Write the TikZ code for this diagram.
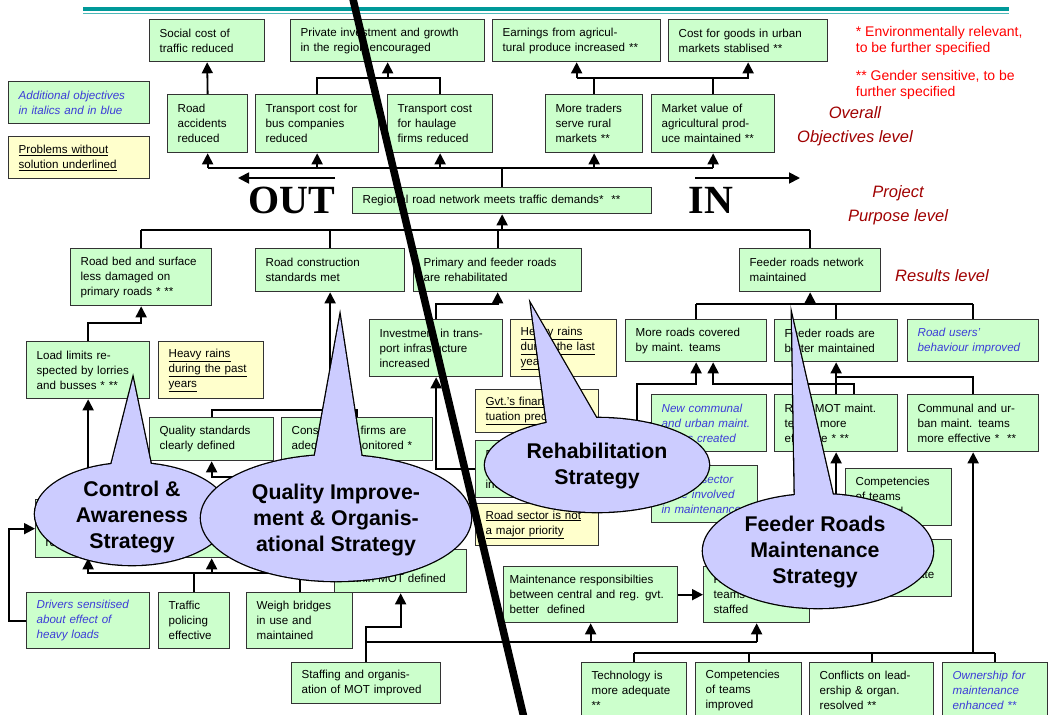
\documentclass[tikz,border=0pt]{standalone}
\usepackage{fontspec}
\setmainfont{Liberation Sans}
\newfontfamily\outinfont{Liberation Serif}
\usetikzlibrary{arrows.meta}

\definecolor{objgreen}{HTML}{CCFFCC}
\definecolor{probyellow}{HTML}{FFFFCC}
\definecolor{stratblue}{HTML}{CCCCFF}
\definecolor{addblue}{HTML}{3C3CD8}
\definecolor{levelred}{HTML}{A00000}
\definecolor{headteal}{HTML}{009999}

\begin{document}
\begin{tikzpicture}[>={Triangle[length=11pt,width=11pt]}, x=1pt, y=-1pt,
    line width=1.8pt,
    obj/.style={draw=black!80, line width=1.3pt, fill=objgreen, anchor=north west,
      align=left, inner xsep=10pt, inner ysep=0pt, font=\fontsize{11.6}{15}\selectfont},
    wh/.style 2 args={minimum width=#1pt, text width=#1pt-20pt, minimum height=#2pt},
    prob/.style={obj, fill=probyellow},
    add/.style={obj, text=addblue, font=\fontsize{11.6}{15}\selectfont\itshape},
    rim/.style={draw=black, line width=2.6pt},
    bubble/.style={fill=stratblue},
    strat/.style={align=center, inner sep=0pt, font=\fontsize{21.3}{26}\selectfont\bfseries},
    level/.style={align=center, inner sep=0pt, text=levelred, font=\fontsize{16.5}{24.5}\selectfont\itshape},
    note/.style={anchor=west, align=left, inner sep=0pt, text=red, font=\fontsize{14}{16}\selectfont},
    inout/.style={inner sep=0pt, font=\outinfont\fontsize{40}{40}\selectfont\bfseries}]

  \useasboundingbox[fill=white] (0,0) rectangle (1053,715);

  % head rule
  \draw[headteal, line width=4.3pt] (83,9) -- (1009,9);
  \draw[headteal!70, line width=1.5pt] (83,13.3) -- (1009,13.3);

  % overall objectives
  \node[obj, wh={115}{42}] (soc) at (149,19) {Social cost of\\traffic reduced};
  \node[obj, wh={194}{42}] (priv) at (290,19) {Private investment and growth\\in the region encouraged};
  \node[obj, wh={168}{42}] (earn) at (492,19) {Earnings from agricul-\\tural produce increased **};
  \node[obj, wh={159}{42}] (cost) at (668,19) {Cost for goods in urban\\markets stablised **};

  \node[obj, wh={80}{58}] (acc) at (167,94) {Road\\accidents\\reduced};
  \node[obj, wh={123}{58}] (tbus) at (255,94) {Transport cost for\\bus companies\\reduced};
  \node[obj, wh={105}{58}] (thaul) at (387,94) {Transport cost\\for haulage\\firms reduced};
  \node[obj, wh={97}{58}] (trad) at (545,94) {More traders\\serve rural\\markets **};
  \node[obj, wh={123}{58}] (mval) at (651,94) {Market value of\\agricultural prod-\\uce maintained **};

  % legend and notes
  \node[add, wh={141}{42}] (leg1) at (8,81) {Additional objectives\\in italics and in blue};
  \node[prob, wh={141}{42}] (leg2) at (8,136) {\underline{Problems without}\\\underline{solution underlined}};
  \node[note] (env) at (855,41) {* Environmentally relevant,\\to be further specified};
  \node[note] (gen) at (855,85) {** Gender sensitive, to be\\further specified};
  \node[level] (ovl) at (855,126) {Overall\\Objectives level};
  \node[level] (ppl) at (898,205) {Project\\Purpose level};
  \node[level] (rsl) at (942,276) {Results level};

  % project purpose
  \node[obj, wh={299}{26}] (purp) at (352,187) {Regional road network meets traffic demands*~~**};
  \node[inout] (out) at (292,200) {OUT};
  \node[inout] (in) at (711,200) {IN};
  \coordinate (outfrom) at (335,178);
  \coordinate (outto) at (238,178);
  \coordinate (infrom) at (695,178);
  \coordinate (into) at (800,178);
  \draw[->] (outfrom) -- (outto);
  \draw[->] (infrom) -- (into);

  % results
  \node[obj, wh={141}{57}] (rbed) at (70,248) {Road bed and surface\\less damaged on\\primary roads * **};
  \node[obj, wh={149}{43}] (rcon) at (255,248) {Road construction\\standards met};
  \node[obj, wh={168}{43}] (rreh) at (413,248) {Primary and feeder roads\\are rehabilitated};
  \node[obj, wh={141}{43}] (rfeed) at (739,248) {Feeder roads network\\maintained};

  % activities and conditions
  \node[obj, wh={123}{57}] (load) at (26,341) {Load limits re-\\spected by lorries\\and busses * **};
  \node[prob, wh={105}{57}] (rain1) at (158,341) {\underline{Heavy rains}\\\underline{during the past}\\\underline{years}};
  \node[obj, wh={124}{43}] (qual) at (149,417) {Quality standards\\clearly defined};
  \node[obj, wh={151}{43}] (firm) at (281,417) {Construction firms are\\adequately monitored *};
  \node[obj, wh={133}{57}] (inv) at (369,319) {Investment in trans-\\port infrastucture\\increased};
  \node[prob, wh={106}{57}] (rain2) at (510,319) {\underline{Heavy rains}\\\underline{during the last}\\\underline{years}};
  \node[prob, wh={123}{43}] (gvt) at (475,389) {\underline{Gvt.'s financial si-}\\\underline{tuation precarious}};
  \node[obj, wh={123}{57}] (dbox) at (475,440) {Donor support\\for road sector\\increased};
  \node[prob, wh={123}{42}] (rsec) at (475,503) {\underline{Road sector is not}\\\underline{a major priority}};

  \node[obj, wh={141}{42}] (mroad) at (625,319) {More roads covered\\by maint. teams};
  \node[obj, wh={123}{42}] (fbet) at (774,319) {Feeder roads are\\better maintained};
  \node[add, wh={131}{42}] (ruse) at (907,319) {Road users'\\behaviour improved};
  \node[add, wh={115}{57}] (ncom) at (651,394) {New communal\\and urban maint.\\teams created};
  \node[obj, wh={123}{57}] (rmot) at (774,394) {Reg. MOT maint.\\teams more\\effective * **};
  \node[obj, wh={131}{57}] (comm) at (907,394) {Communal and ur-\\ban maint. teams\\more effective *~~**};
  \node[add, wh={106}{57}] (psec) at (651,465) {Private sector\\more involved\\in maintenance};
  \node[obj, wh={106}{57}] (comp1) at (845,468) {Competencies\\of teams\\improved};
  \node[obj, wh={106}{57}] (tech1) at (845,539) {Technology is\\more adequate};

  \node[obj, wh={197}{58}] (hid) at (35,499) {Axle load limits\\enforced by\\regulations};
  \node[add, wh={123}{56}] (drv) at (26,592) {Drivers sensitised\\about effect of\\heavy loads};
  \node[obj, wh={71}{56}] (traf) at (158,592) {Traffic\\policing\\effective};
  \node[obj, wh={106}{56}] (weigh) at (246,592) {Weigh bridges\\in use and\\maintained};
  \node[obj, wh={132}{43}] (mot) at (334,549) {Responsibilities\\within MOT defined};
  \node[obj, wh={149}{41}] (staff) at (291,662) {Staffing and organis-\\ation of MOT improved};
  \node[obj, minimum width=174pt, text width=162pt, inner xsep=6pt, minimum height=56pt] (mresp) at (503,566)
    {Maintenance responsibilties\\between central and reg. gvt.\\better~~defined};
  \node[obj, wh={106}{56}] (staffd) at (703,566) {Reg. MOT\\teams\\staffed};

  \node[obj, wh={105}{56}] (tech2) at (581,662) {Technology is\\more adequate\\* **};
  \node[obj, wh={106}{56}] (comp2) at (695,662) {Competencies\\of teams\\improved};
  \node[obj, wh={124}{56}] (confl) at (809,662) {Conflicts on lead-\\ership \& organ.\\resolved **};
  \node[add, wh={105}{56}] (own) at (942,662) {Ownership for\\maintenance\\enhanced **};

  % junction levels
  \coordinate (lvl1) at (0,78);
  \coordinate (lvl2) at (0,168);
  \coordinate (lvl3) at (0,230);
  \coordinate (rjoin) at (0,304);
  \coordinate (ljoin) at (0,323);
  \coordinate (cjoin) at (0,377);
  \coordinate (mjoin) at (0,384);
  \coordinate (qjoin) at (0,410);
  \coordinate (sjoin) at (0,477);
  \coordinate (hjoin) at (0,573);
  \coordinate (tjoin) at (0,627);
  \coordinate (bjoin) at (0,642);
  \coordinate (ojoin) at (0,653);
  \coordinate (leftrail) at (9,0);
  \coordinate (midrail) at (637,0);

  % links between objectives
  \draw[->] (acc.north) -- (soc.south);
  \draw (tbus.north) |- (thaul.north |- lvl1) -- (thaul.north);
  \draw[->] (priv.south |- lvl1) -- (priv.south);
  \draw (trad.north) -- (trad.north |- lvl1);
  \draw (mval.north) -- (mval.north |- lvl1);
  \draw[->] (earn.south |- lvl1) -- (cost.south |- lvl1) -- (cost.south);
  \draw[->] (earn.south |- lvl1) -- (earn.south);

  \draw (acc.south |- lvl2) -- (mval.south |- lvl2);
  \foreach \n in {acc,tbus,thaul,trad,mval}
    \draw[->] (\n.south |- lvl2) -- (\n.south);
  \draw (purp.north) -- (purp.north |- lvl2);

  \draw (rbed.north |- lvl3) -- (rfeed.north |- lvl3);
  \foreach \n in {rbed,rcon,rreh,rfeed}
    \draw (\n.north) -- (\n.north |- lvl3);
  \draw[->] (purp.south |- lvl3) -- (purp.south);

  % links below the results
  \draw[->] (load.north) |- (rbed.south |- ljoin) -- (rbed.south);
  \draw[->] (hid.north -| load.north) -- (load.south);
  \draw (qual.north) |- (firm.north |- qjoin) -- (firm.north);
  \draw[->] (rcon.south |- qjoin) -- (rcon.south);
  \draw[->] (mot.north) |- (qual.south |- sjoin) -- (qual.south);
  \draw[->] (inv.north) |- (rreh.south |- rjoin) -- (rreh.south);
  \draw[->] (dbox.west) -| (inv.south);

  \draw (mroad.north |- rjoin) -- (ruse.north |- rjoin);
  \foreach \n in {mroad,fbet,ruse}
    \draw (\n.north) -- (\n.north |- rjoin);
  \draw[->] (rfeed.south |- rjoin) -- (rfeed.south);
  \draw[->] (psec.west) -- (psec.west -| midrail) |- (mroad.south |- mjoin) -- (mroad.south);
  \draw (ncom.west) -- (ncom.west -| midrail);
  \draw[->] ([xshift=18pt]rmot.north) |- ([xshift=17pt]mroad.south |- mjoin) -- ([xshift=17pt]mroad.south);
  \draw[->] (rmot.north) -- (fbet.south);
  \draw (comm.north) |- (fbet.south |- cjoin);
  \draw[->] (tech1.west) -| (rmot.south);
  \draw (comp1.west) -- (comp1.west -| rmot.south);

  \draw[->] (weigh.north) |- (load.south |- hjoin) -- (hid.south -| load.south);
  \draw (traf.north) -- (traf.north |- hjoin);
  \draw[->] (qual.south |- hjoin) -- (hid.south -| qual.south);
  \draw[->] (drv.west) -- (drv.west -| leftrail) |- (hid.west);
  \draw[->] (staff.north) |- (mot.south |- tjoin) -- (mot.south);
  \draw (staff.north |- bjoin) -- (staffd.south |- bjoin);
  \draw[->] (mresp.south |- bjoin) -- (mresp.south);
  \draw[->] (staffd.south |- bjoin) -- (staffd.south);
  \draw[->] (mresp.east) -- (staffd.west);
  \draw (tech2.north |- ojoin) -- (own.north |- ojoin);
  \foreach \n in {tech2,comp2,confl,own}
    \draw (\n.north) -- (\n.north |- ojoin);
  \draw[->] (comm.south |- ojoin) -- (comm.south);

  % strategy bubbles
  \draw[rim] (132,514) ellipse [x radius=97pt, y radius=51pt];
  \draw[rim] (133,379) -- (110,470) -- (152,470) -- cycle;
  \fill[bubble] (132,514) ellipse [x radius=97pt, y radius=51pt];
  \fill[bubble] (133,379) -- (110,470) -- (152,470) -- cycle;
  \node[strat] (cas) at (132,517) {Control \&\\Awareness\\Strategy};

  \draw[rim] (336,518) ellipse [x radius=135pt, y radius=63pt];
  \draw[rim] (340,317) -- (313,466) -- (363,466) -- cycle;
  \fill[bubble] (336,518) ellipse [x radius=135pt, y radius=63pt];
  \fill[bubble] (340,317) -- (313,466) -- (363,466) -- cycle;
  \node[strat] (qis) at (336,520) {Quality Improve-\\ment \& Organis-\\ational Strategy};

  \draw[rim] (597,465) ellipse [x radius=112pt, y radius=47pt];
  \draw[rim] (531,305) -- (548,432) -- (602,428) -- cycle;
  \fill[bubble] (597,465) ellipse [x radius=112pt, y radius=47pt];
  \fill[bubble] (531,305) -- (548,432) -- (602,428) -- cycle;
  \node[strat] (rhs) at (597,466) {Rehabilitation\\Strategy};

  \draw[rim] (818,551) ellipse [x radius=115pt, y radius=57pt];
  \draw[rim] (792,317) -- (795,505) -- (834,500) -- cycle;
  \fill[bubble] (818,551) ellipse [x radius=115pt, y radius=57pt];
  \fill[bubble] (792,317) -- (795,505) -- (834,500) -- cycle;
  \node[strat] (frm) at (815,552) {Feeder Roads\\Maintenance\\Strategy};

  % the cut
  \coordinate (cuttop) at (352,-5);
  \coordinate (cutbot) at (524.5,720);
  \draw[line width=7.5pt] (cuttop) -- (cutbot);
\end{tikzpicture}
\end{document}
